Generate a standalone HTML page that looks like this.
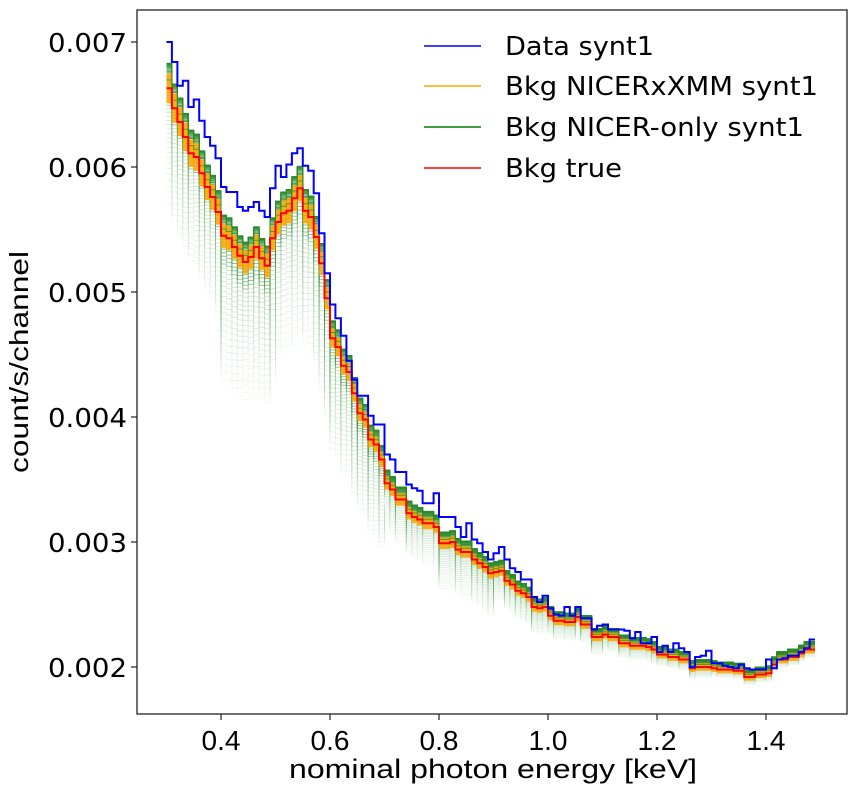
<!DOCTYPE html>
<html><head><meta charset="utf-8"><style>
html,body{margin:0;padding:0;background:#fff}
svg{display:block}
text{font-family:"DejaVu Sans","Liberation Sans",sans-serif;fill:#000}
</style></head><body>
<svg id="chart" width="855" height="790" viewBox="0 0 855 790">
<g id="plot"></g>
<rect x="137" y="10" width="710" height="704" fill="none" stroke="#222" stroke-width="1.3"/>
<g id="axes"></g>
<text x="28" y="362" transform="rotate(-90 28 362)" text-anchor="middle" font-size="26" textLength="222" lengthAdjust="spacingAndGlyphs" style="font-family:'Liberation Sans',sans-serif">count/s/channel</text>
<text x="493" y="778" text-anchor="middle" font-size="27" textLength="408" lengthAdjust="spacingAndGlyphs" style="font-family:'Liberation Sans',sans-serif">nominal photon energy [keV]</text>
<g id="legend">
 <g><line x1="424" y1="46" x2="481" y2="46" stroke="#0000ff" stroke-width="1.5"/><text x="505" y="55" font-size="26" textLength="149" lengthAdjust="spacingAndGlyphs">Data synt1</text></g>
 <g><line x1="424" y1="86" x2="481" y2="86" stroke="#ffa500" stroke-width="1.5"/><text x="505" y="95" font-size="26" textLength="313" lengthAdjust="spacingAndGlyphs">Bkg NICERxXMM synt1</text></g>
 <g><line x1="424" y1="127" x2="481" y2="127" stroke="#008000" stroke-width="1.5"/><text x="505" y="136" font-size="26" textLength="299" lengthAdjust="spacingAndGlyphs">Bkg NICER-only synt1</text></g>
 <g><line x1="424" y1="168" x2="481" y2="168" stroke="#ff0000" stroke-width="1.5"/><text x="505" y="177" font-size="26" textLength="117" lengthAdjust="spacingAndGlyphs">Bkg true</text></g>
</g>
</svg>
<script>
const binStart = 0.30;
const binWidth = 0.01;
const dataSynt1 = [.00700,.00684,.00665,.00669,.00648,.00654,.00637,.00624,.00617,.00607,.00584,.00580,.00580,.00568,.00565,.00568,.00572,.00565,.00560,.00583,.00601,.00592,.00602,.00611,.00615,.00601,.00597,.00579,.00547,.00515,.00490,.00479,.00465,.00445,.00430,.00417,.00417,
.00401,.00394,.00394,.00370,.00366,.00356,.00356,.00346,.00343,.00341,.00331,.00331,.00339,.00320,.00320,.00320,.00312,.00304,.00315,.00302,.00299,.00292,.00286,.00291,.00296,.00286,.00279,.00276,.00270,.00270,.00256,.00252,.00257,.00247,.00242,.00241,
.00248,.00241,.00248,.00239,.00239,.00230,.00233,.00234,.00230,.00230,.00230,.00229,.00223,.00228,.00219,.00219,.00224,.00212,.00217,.00212,.00219,.00215,.00212,.00200,.00208,.00209,.00213,.00203,.00203,.00201,.00200,.00199,.00202,.00199,.00198,.00198,.00198,.00206,.00199,.00206,.00207,.00209,.00209,.00212,.00215,.00222];
const bkgTrue = [.00663,.00647,.00636,.00624,.00611,.00608,.00595,.00584,.00576,.00564,.00545,.00543,.00536,.00529,.00524,.00528,.00536,.00527,.00521,.00543,.00556,.00563,.00565,.00575,.00583,.00565,.00560,.00544,.00523,.00495,.00463,.00456,.00441,.00436,.00419,.00403,.00398,
.00382,.00378,.00366,.00347,.00342,.00334,.00334,.00323,.00320,.00318,.00315,.00315,.00312,.00299,.00299,.00300,.00294,.00292,.00292,.00286,.00283,.00280,.00275,.00276,.00277,.00269,.00266,.00261,.00259,.00256,.00248,.00247,.00248,.00241,.00237,.00237,
.00236,.00236,.00240,.00234,.00234,.00224,.00224,.00226,.00224,.00224,.00219,.00219,.00217,.00217,.00217,.00216,.00214,.00210,.00210,.00208,.00208,.00206,.00206,.00199,.00200,.00200,.00200,.00199,.00198,.00198,.00198,.00197,.00197,.00192,.00192,.00194,.00194,.00195,.00202,.00206,.00206,.00208,.00208,.00211,.00214,.00214];
const greenLowFactor = [0.86,0.79,0.81,0.81,0.90,0.88,0.92,0.94,0.95,0.96,0.97,0.97];
const orangeHalfWidth = [0.018,0.018,0.018,0.016,0.015,0.015,0.015,0.015,0.015,0.015,0.015,0.015];
const xTicks = [0.4,0.6,0.8,1.0,1.2,1.4];
const xTickLabels = ["0.4","0.6","0.8","1.0","1.2","1.4"];
const yTicks = [0.002,0.003,0.004,0.005,0.006,0.007];
const yTickLabels = ["0.002","0.003","0.004","0.005","0.006","0.007"];

const NS = "http://www.w3.org/2000/svg";
function xs(e){ return 221 + (e - 0.4) * 545; }
function ys(v){ return 667 - (v - 0.002) * 125000; }
function region(i){ return Math.min(greenLowFactor.length - 1, Math.floor(i * binWidth / 0.1 + 1e-9)); }
function stepPath(vals, fac){
  let d = "";
  for (let i = 0; i < vals.length; i++){
    const x0 = xs(binStart + i * binWidth), x1 = xs(binStart + (i + 1) * binWidth);
    const y = ys(vals[i] * fac(i));
    d += (i === 0 ? "M" : "L") + x0.toFixed(1) + "," + y.toFixed(1) + "L" + x1.toFixed(1) + "," + y.toFixed(1);
  }
  return d;
}
const plot = document.getElementById("plot");
function addPath(d, stroke, w, op, name){
  const p = document.createElementNS(NS, "path");
  p.setAttribute("d", d); p.setAttribute("fill", "none");
  p.setAttribute("stroke", stroke); p.setAttribute("stroke-width", w);
  p.setAttribute("stroke-opacity", op);
  
  
  plot.appendChild(p);
  return p;
}
const nGreen = 45;
for (let j = nGreen - 1; j >= 0; j--){
  const q = j / (nGreen - 1);
  const qq = Math.pow(q, 2.0);
  const op = q < 0.55 ? 0.95 - 0.9 * q : 0.45 - 0.4 * q;
  addPath(stepPath(bkgTrue, i => 1.03 - (1.03 - greenLowFactor[region(i)]) * qq), "#2a8a2a", 1.0, op, "nicer-only-realization");
}
let up = "", lo = [];
for (let i = 0; i < bkgTrue.length; i++){
  const x0 = xs(binStart + i * binWidth), x1 = xs(binStart + (i + 1) * binWidth);
  const h = orangeHalfWidth[region(i)];
  const yu = ys(bkgTrue[i] * (1 + h)), yl = ys(bkgTrue[i] * (1 - h));
  up += (i === 0 ? "M" : "L") + x0.toFixed(1) + "," + yu.toFixed(1) + "L" + x1.toFixed(1) + "," + yu.toFixed(1);
  lo.unshift("L" + x1.toFixed(1) + "," + yl.toFixed(1) + "L" + x0.toFixed(1) + "," + yl.toFixed(1));
}
const band = document.createElementNS(NS, "path");
band.setAttribute("d", up + lo.join("") + "Z");
band.setAttribute("fill", "#ffa500"); band.setAttribute("fill-opacity", "0.85");


plot.appendChild(band);
for (let j = 0; j < 3; j++){
  addPath(stepPath(bkgTrue, i => 1.03 - 0.01 * j), "#2a8a2a", 1, 0.7, "nicer-only-top");
}
addPath(stepPath(bkgTrue, i => 1), "#ff0000", 2, 1, "bkg-true-line");
addPath(stepPath(dataSynt1, i => 1), "#0000ff", 2, 1, "data-synt1-line");

const axes = document.getElementById("axes");
xTicks.forEach((t, k) => {
  const x = xs(t);
  const l = document.createElementNS(NS, "line");
  l.setAttribute("x1", x); l.setAttribute("x2", x); l.setAttribute("y1", 714); l.setAttribute("y2", 720);
  l.setAttribute("stroke", "#222"); l.setAttribute("stroke-width", "1.2");
  
  
  axes.appendChild(l);
  const tx = document.createElementNS(NS, "text");
  tx.setAttribute("x", x); tx.setAttribute("y", 750); tx.setAttribute("text-anchor", "middle");
  tx.setAttribute("font-size", "28"); tx.setAttribute("style", "font-family:'Liberation Sans',sans-serif");
  tx.textContent = xTickLabels[k];
  
  
  axes.appendChild(tx);
});
yTicks.forEach((t, k) => {
  const y = ys(t);
  const l = document.createElementNS(NS, "line");
  l.setAttribute("x1", 131); l.setAttribute("x2", 137); l.setAttribute("y1", y); l.setAttribute("y2", y);
  l.setAttribute("stroke", "#222"); l.setAttribute("stroke-width", "1.2");
  
  
  axes.appendChild(l);
  const tx = document.createElementNS(NS, "text");
  tx.setAttribute("x", 48); tx.setAttribute("y", y + 10);
  tx.setAttribute("font-size", "26"); tx.setAttribute("textLength", "79"); tx.setAttribute("lengthAdjust", "spacingAndGlyphs");
  tx.textContent = yTickLabels[k];
  
  
  axes.appendChild(tx);
});
</script>
</body></html>
